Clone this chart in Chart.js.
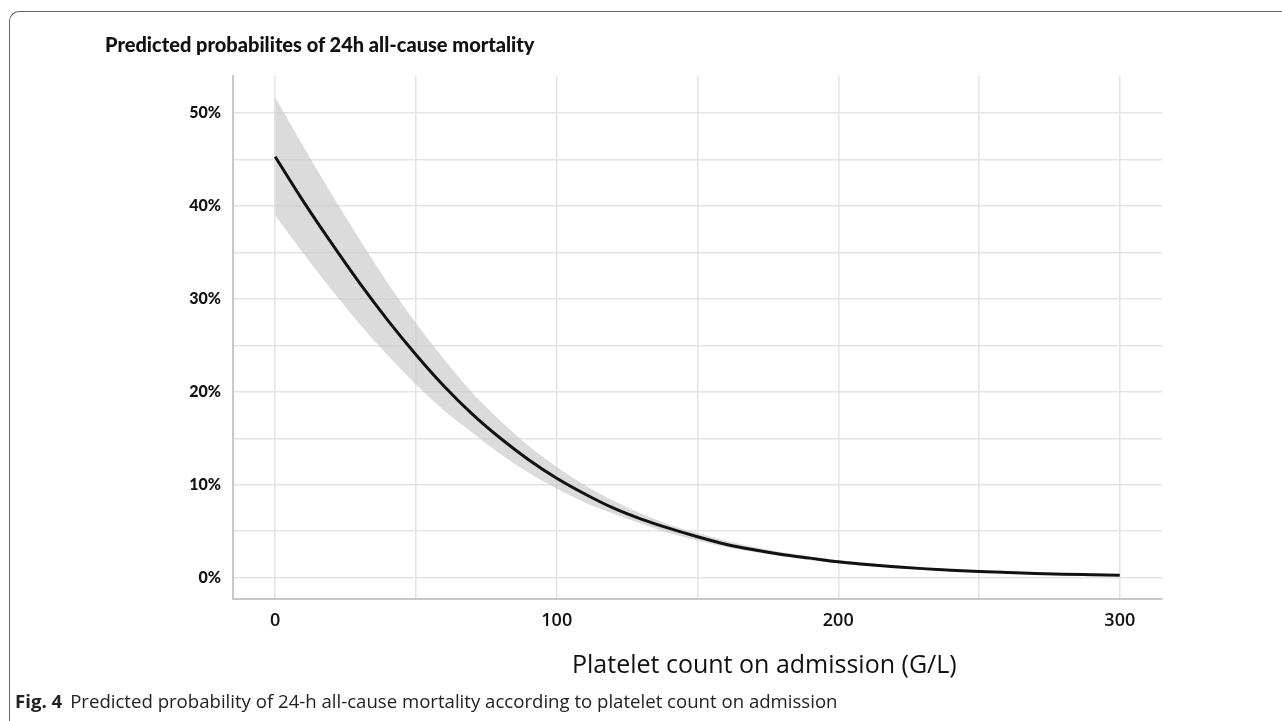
<!DOCTYPE html>
<html>
<head>
<meta charset="utf-8">
<script src="https://cdn.jsdelivr.net/npm/chart.js@4.4.1/dist/chart.umd.min.js"></script>
<style>
  html, body { margin: 0; padding: 0; background: #fff; }
  #wrap { position: relative; width: 1282px; height: 721px; overflow: hidden; background: #fff; }
  #frame { position: absolute; left: 9px; top: 11px; width: 1300px; height: 740px;
           border-left: 1.5px solid #666; border-top: 1.5px solid #666; border-top-left-radius: 10px; }
  #chartbox { position: absolute; left: 0; top: 0; width: 1282px; height: 721px; }
  .txt { position: absolute; white-space: nowrap; color: #111; }
  #title { left: 105px; top: 32px; font-family: Lato, sans-serif; font-weight: 900; font-size: 20px; }
  #xtitle { left: 572px; top: 646px; font-family: "Open Sans", sans-serif; font-size: 25px; }
  #caption { left: 15px; top: 688px; font-family: "Open Sans", sans-serif; font-size: 18.6px; color: #222; }
  #caption b { font-weight: 700; margin-right: 8px; }
</style>
</head>
<body>
<div id="wrap">
  <div id="chartbox"><canvas id="c"></canvas></div>
  <div id="frame"></div>
  <div class="txt" id="title">Predicted probabilites of 24h all-cause mortality</div>
  <div class="txt" id="xtitle">Platelet count on admission (G/L)</div>
  <div class="txt" id="caption"><b>Fig. 4</b>Predicted probability of 24-h all-cause mortality according to platelet count on admission</div>
</div>
<script>
// Platelet count (G/L)
const platelets = [0,10,20,30,40,50,60,70,80,90,100,110,120,130,140,150,160,170,180,190,200,210,220,230,240,250,260,270,280,290,300];
// Predicted probability (%)
const predicted = [45.3,40.5,36.0,31.7,27.7,24.0,20.6,17.6,15.0,12.7,10.7,9.0,7.5,6.3,5.3,4.4,3.6,3.0,2.5,2.1,1.7,1.42,1.17,0.97,0.80,0.66,0.55,0.45,0.37,0.31,0.25];
// Upper / lower confidence limits (%)
const upperCI = [51.7,46.4,41.3,36.4,31.7,27.4,23.5,19.9,16.9,14.2,11.9,9.95,8.3,6.9,5.7,4.8,3.96,3.3,2.73,2.28,1.89,1.58,1.32,1.10,0.92,0.77,0.64,0.53,0.44,0.37,0.31];
const lowerCI = [39.0,34.9,31.0,27.3,23.9,20.8,18.0,15.6,13.3,11.3,9.6,8.1,6.9,5.8,4.8,4.0,3.3,2.76,2.29,1.88,1.55,1.27,1.04,0.85,0.69,0.57,0.46,0.38,0.31,0.25,0.21];
const xTickLabels = [0,100,200,300];
const yTickLabels = [0,10,20,30,40,50];

const pts = arr => platelets.map((x, i) => ({ x: x, y: arr[i] }));

new Chart(document.getElementById('c'), {
  type: 'line',
  data: {
    datasets: [
      { label: 'upper', data: pts(upperCI), borderWidth: 0, borderColor: 'rgba(0,0,0,0)', order: 2,
        backgroundColor: 'rgba(200,200,200,0.65)', fill: '+1', pointRadius: 0, cubicInterpolationMode: 'monotone' },
      { label: 'lower', data: pts(lowerCI), borderWidth: 0, borderColor: 'rgba(0,0,0,0)', order: 3,
        fill: false, pointRadius: 0, cubicInterpolationMode: 'monotone' },
      { label: 'predicted', data: pts(predicted), borderWidth: 3, borderColor: '#111', order: 0,
        fill: false, pointRadius: 0, cubicInterpolationMode: 'monotone' }
    ]
  },
  options: {
    responsive: true,
    maintainAspectRatio: false,
    animation: false,
    events: [],
    layout: { padding: { left: 0, top: 76, right: 120, bottom: 0 } },
    plugins: { legend: { display: false }, tooltip: { enabled: false }, title: { display: false } },
    scales: {
      x: {
        type: 'linear', min: -15, max: 315,
        afterFit: s => { s.height = 122; },
        afterBuildTicks: s => { s.ticks = [0,50,100,150,200,250,300].map(v => ({ value: v })); },
        grid: { color: '#e4e4e4', lineWidth: 1.5, drawTicks: false },
        border: { display: true, color: '#c8c8c8', width: 2 },
        ticks: {
          padding: 11, color: '#111',
          font: { family: '"Open Sans", sans-serif', size: 18, weight: '600' },
          callback: v => xTickLabels.includes(v) ? String(v) : ''
        }
      },
      y: {
        type: 'linear', min: -2.3, max: 54,
        afterFit: s => { s.width = 233; },
        afterBuildTicks: s => { s.ticks = [0,5,10,15,20,25,30,35,40,45,50].map(v => ({ value: v })); },
        grid: { color: '#e4e4e4', lineWidth: 1.5, drawTicks: false },
        border: { display: true, color: '#c8c8c8', width: 2 },
        ticks: {
          padding: 12, color: '#111',
          font: { family: 'Lato, sans-serif', size: 16, weight: '900' },
          callback: v => yTickLabels.includes(v) ? v + '%' : ''
        }
      }
    }
  }
});
</script>
</body>
</html>
